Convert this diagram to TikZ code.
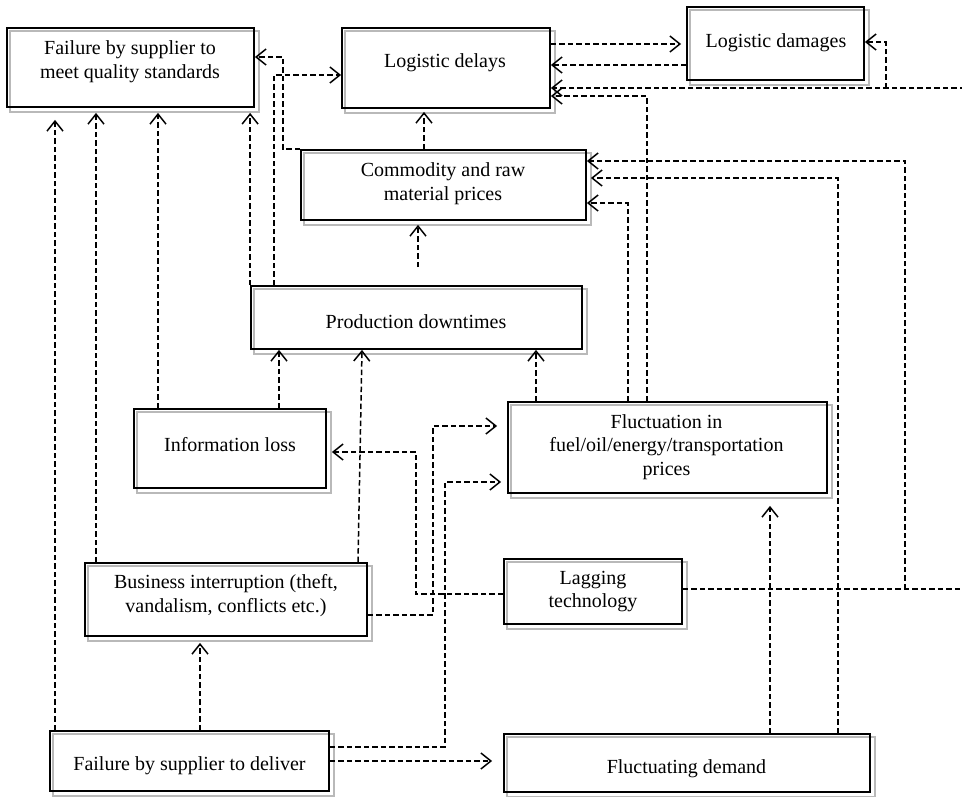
\documentclass[tikz,border=0pt]{standalone}
\usepackage{fontspec}
\setmainfont{Liberation Serif}
\usetikzlibrary{arrows.meta,backgrounds}
\tikzset{
  box/.style={draw=black, line width=1.8pt, inner sep=0pt},
  lbl/.style={align=center, inner sep=0pt, font=\fontsize{20}{23.5}\selectfont},
  shadowframe/.style={draw=gray!55, line width=1.6pt},
  conn/.style={line width=1.5pt, dash pattern=on 5.5pt off 3pt,
    -{Straight Barb[length=10pt,width=16pt,line width=1.5pt]}},
}
\begin{document}
\begin{tikzpicture}[x=1pt,y=-1pt]
\useasboundingbox (0,0) rectangle (962,796);
\clip (0,0) rectangle (962,796);

% boxes
\node[box, minimum width=247pt, minimum height=79pt] (FQ)   at (130.5,67.5) {};
\node[box, minimum width=208pt, minimum height=80pt] (LD)   at (446,68) {};
\node[box, minimum width=177pt, minimum height=73pt] (LDam) at (775.5,43.5) {};
\node[box, minimum width=285pt, minimum height=70pt] (CR)   at (443.5,185) {};
\node[box, minimum width=331pt, minimum height=63pt] (PD)   at (416.5,317.5) {};
\node[box, minimum width=192pt, minimum height=79pt] (IL)   at (230,448.5) {};
\node[box, minimum width=319pt, minimum height=91pt] (FF)   at (667.5,447.5) {};
\node[box, minimum width=282pt, minimum height=73pt] (BI)   at (226,599.5) {};
\node[box, minimum width=178pt, minimum height=65pt] (LT)   at (593,591.5) {};
\node[box, minimum width=279pt, minimum height=60pt] (FD)   at (189.5,761) {};
\node[box, minimum width=366pt, minimum height=58pt] (FDem) at (687,763) {};

% labels
\node[lbl] (FQt)   at (130,61.5) {Failure by supplier to\\meet quality standards};
\node[lbl] (LDt)   at (445,63) {Logistic delays};
\node[lbl] (LDamt) at (776,43) {Logistic damages};
\node[lbl] (CRt)   at (443,183.5) {Commodity and raw\\material prices};
\node[lbl] (PDt)   at (416,322) {Production downtimes};
\node[lbl] (ILt)   at (230,445) {Information loss};
\node[lbl] (FFt)   at (666.5,447) {Fluctuation in\\fuel/oil/energy/transportation\\prices};
\node[lbl] (BIt)   at (226,595.5) {Business interruption (theft,\\vandalism, conflicts etc.)};
\node[lbl] (LTt)   at (593,591.5) {Lagging\\technology};
\node[lbl] (FDt)   at (189.5,766) {Failure by supplier to deliver};
\node[lbl] (FDemt) at (686.5,769) {Fluctuating demand};

% offset gray frames
\begin{scope}[on background layer]
\foreach \n in {FQ,LD,LDam,CR,PD,IL,FF,BI,LT,FD,FDem}
  \draw[shadowframe] ([shift={(4,4)}]\n.north west) rectangle ([shift={(4,4)}]\n.south east);
\end{scope}

% connectors into FQ
\draw[conn, shorten >=12pt] (FD.north -| 55,0) -- (FQ.south -| 55,0);
\draw[conn, shorten >=5pt] (BI.north -| 96,0) -- (FQ.south -| 96,0);
\draw[conn, shorten >=5pt] (IL.north -| 158,0) -- (FQ.south -| 158,0);
\draw[conn, shorten >=5pt] (PD.north west) -- (FQ.south -| PD.north west);
\draw[conn] (CR.north west) -| (283,57) -- (FQ.east |- 0,57);

% into LD
\draw[conn] (PD.north -| 274,0) |- (LD.west |- 0,75);
\draw[conn, shorten >=3pt] (CR.north -| 424,0) -- (LD.south -| 424,0);
\draw[conn] (LDam.west |- 0,65) -- (LD.east |- 0,65);
\draw[conn] (FF.north -| 647,0) |- (LD.east |- 0,96);
\draw[conn] (LT.east |- 0,589) -- (990,589) -- (990,88) -- (LD.east |- 0,88);

% into LDam
\draw[conn, shorten >=5pt] (LD.east |- 0,44) -- (LDam.west |- 0,44);
\coordinate (j1) at (886,88);
\draw[conn] (j1) |- (LDam.east |- 0,42);

% into CR
\coordinate (j2) at (905,589);
\draw[conn] (j2) |- (CR.east |- 0,161);
\draw[conn, shorten >=4pt] (FDem.north -| 838,0) |- (CR.east |- 0,178);
\draw[conn] (FF.north -| 628,0) |- (CR.east |- 0,203);
\draw[conn, shorten <=18pt, shorten >=4pt] (PD.north -| 418,0) -- (CR.south -| 418,0);

% into PD
\draw[conn] (FF.north -| 536,0) -- (PD.south -| 536,0);
\draw[conn] (IL.north -| 279,0) -- (PD.south -| 279,0);
\draw[conn] (BI.north -| 358,0) -- (PD.south -| 362,0);

% into IL
\draw[conn, shorten >=5pt] (LT.west |- 0,594) -| (416,452) -- (IL.east |- 0,452);

% into FF
\draw[conn, shorten >=10pt] (BI.east |- 0,615) -| (433,426) -- (FF.west |- 0,426);
\draw[conn, shorten >=6pt] (FD.east |- 0,747) -| (445,482) -- (FF.west |- 0,482);
\draw[conn, shorten >=12pt] (FDem.north -| 770,0) -- (FF.south -| 770,0);

% into BI and FDem
\draw[conn, shorten >=6pt] (FD.north -| 200,0) -- (BI.south -| 200,0);
\draw[conn, shorten >=11pt] (FD.east |- 0,761) -- (FDem.west |- 0,761);
\end{tikzpicture}
\end{document}
